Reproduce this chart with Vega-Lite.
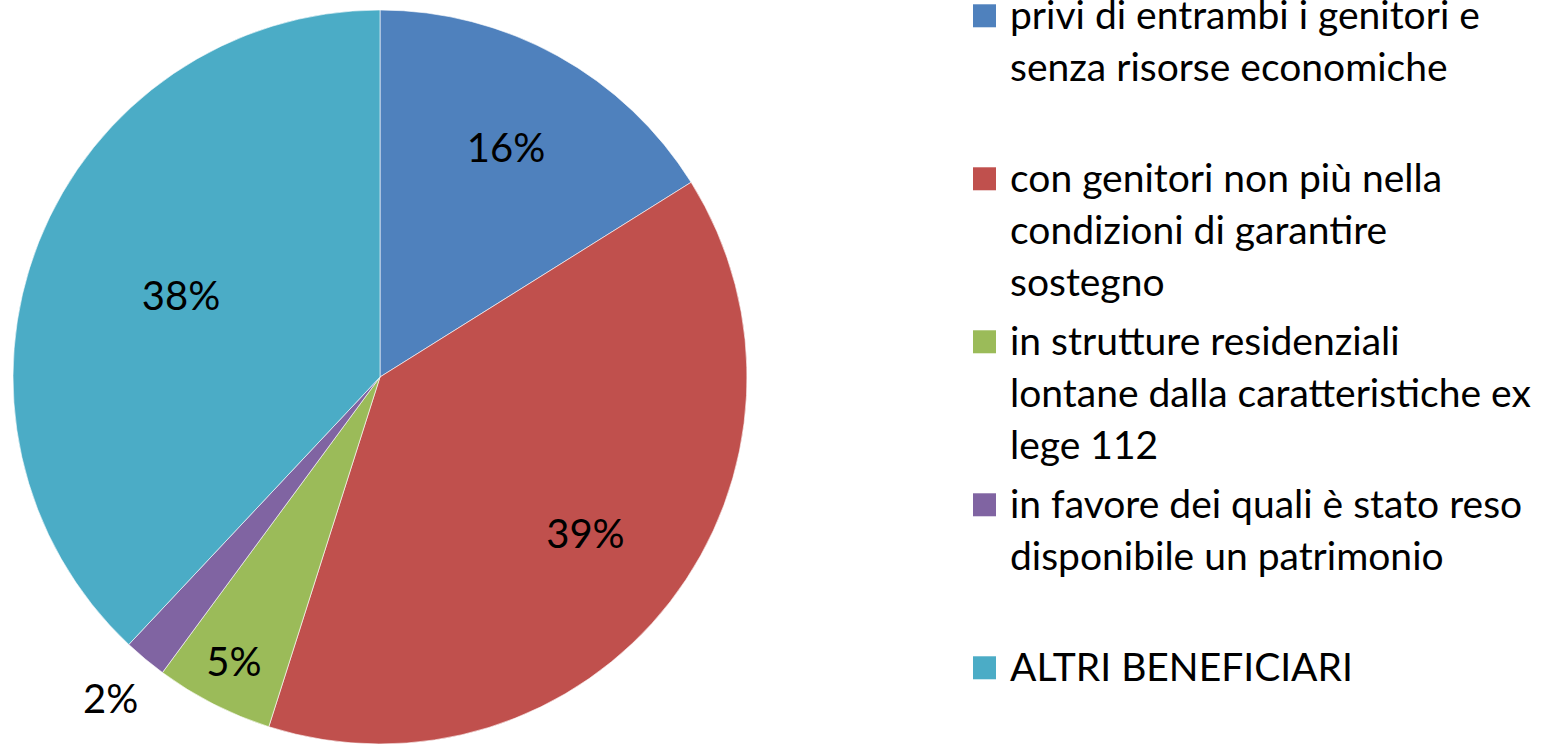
{
  "$schema": "https://vega.github.io/schema/vega-lite/v6.json",
  "width": 760,
  "height": 734,
  "padding": {"top": 10, "left": 0, "right": 804, "bottom": 0},
  "autosize": {"type": "none"},
  "background": "white",
  "config": {
    "view": {"stroke": null},
    "style": {"guide-label": {"lineHeight": 52}}
  },
  "data": {
    "values": [
      {"ord": 1, "cat": "privi di entrambi i genitori e|senza risorse economiche", "value": 0.161},
      {"ord": 2, "cat": "con genitori non più nella|condizioni di garantire|sostegno", "value": 0.388},
      {"ord": 3, "cat": "in strutture residenziali|lontane dalla caratteristiche ex|lege 112", "value": 0.052},
      {"ord": 4, "cat": "in favore dei quali è stato reso|disponibile un patrimonio", "value": 0.019},
      {"ord": 5, "cat": "ALTRI BENEFICIARI", "value": 0.380}
    ]
  },
  "encoding": {
    "theta": {"field": "value", "type": "quantitative", "stack": true},
    "order": {"field": "ord", "type": "quantitative"}
  },
  "layer": [
    {
      "mark": {"type": "arc", "outerRadius": 367, "stroke": "#ffffff", "strokeWidth": 1, "strokeOpacity": 0.6},
      "encoding": {
        "color": {
          "field": "cat",
          "type": "nominal",
          "scale": {
            "domain": [
              "privi di entrambi i genitori e|senza risorse economiche",
              "con genitori non più nella|condizioni di garantire|sostegno",
              "in strutture residenziali|lontane dalla caratteristiche ex|lege 112",
              "in favore dei quali è stato reso|disponibile un patrimonio",
              "ALTRI BENEFICIARI"
            ],
            "range": ["#4F81BD", "#C0504D", "#9BBB59", "#8064A2", "#4BACC6"]
          },
          "legend": {
            "title": null,
            "orient": "none",
            "legendX": 965,
            "legendY": -32,
            "padding": 0,
            "gridAlign": "all",
            "rowPadding": -0.8,
            "symbolType": "M-1,0.59L1,0.59L1,2.59L-1,2.59Z",
            "symbolSize": 529,
            "symbolStrokeWidth": 0,
            "labelFont": "Lato",
            "labelFontSize": 39,
            "labelColor": "#000000",
            "labelBaseline": "top",
            "labelOffset": 6,
            "labelLimit": 1000,
            "labelExpr": "split(datum.label, '|')"
          }
        }
      }
    },
    {
      "mark": {
        "type": "text",
        "radius": {"expr": "datum.ord == 4 ? 421 : datum.ord == 3 ? 322 : datum.ord == 5 ? 214 : 260"},
        "font": "Lato",
        "fontSize": 40,
        "color": "#000000"
      },
      "encoding": {
        "text": {"field": "value", "type": "quantitative", "format": ".0%"}
      }
    }
  ]
}
